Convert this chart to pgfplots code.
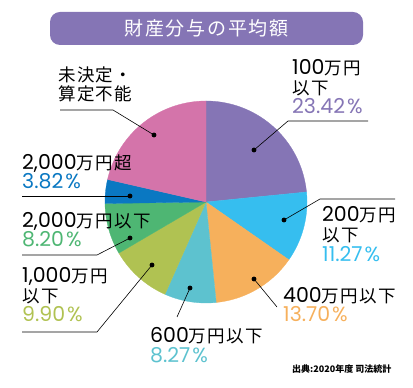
\documentclass[border=0pt]{standalone}
\usepackage{fontspec}
\setmainfont{Noto Sans CJK JP}
\newfontfamily\jp{Noto Sans CJK JP}[LetterSpace=8]
\newfontfamily\jpt{Noto Sans CJK JP}[LetterSpace=9]
\newfontfamily\lat{Poppins}
\usepackage{pgfplots}
\pgfplotsset{compat=1.18}
\definecolor{cpurple}{HTML}{8575B5}
\definecolor{clblue}{HTML}{36BEEF}
\definecolor{corange}{HTML}{F6B05C}
\definecolor{cteal}{HTML}{5DC2CF}
\definecolor{cyg}{HTML}{B0C252}
\definecolor{cgreen}{HTML}{4EB673}
\definecolor{cblue}{HTML}{0A78C2}
\definecolor{cpink}{HTML}{D474AA}
\newcommand\Jt[1]{{\fontsize{17.5bp}{19.5bp}\jp #1}}
\newcommand\Lt[1]{{\fontsize{20.5bp}{19.5bp}\lat #1}}
\newcommand\Pt[2]{{\fontsize{20.5bp}{19.5bp}\lat\color{#1}#2\kern2bp\%}}
\def\cum{0}
\newcommand\slice[2]{%
  \pgfmathsetmacro\sa{90-3.6*\cum}%
  \pgfmathsetmacro\cumnew{\cum+#1}%
  \global\let\cum\cumnew
  \pgfmathsetmacro\sb{90-3.6*\cum}%
  \edef\temp{\noexpand\addplot[fill=#2,draw=#2,line width=0.3bp,domain=\sb:\sa,samples=90] ({206+101*cos(x)},{186+101*sin(x)}) -- (axis cs:206,186) -- cycle;}%
  \temp}
\begin{document}
\begin{tikzpicture}
\begin{axis}[hide axis, scale only axis, width=413bp, height=388bp,
  xmin=0, xmax=413, ymin=0, ymax=388, clip=false]
\path (axis cs:0,0) rectangle (axis cs:413,388);
% title
\fill[cpurple, rounded corners=10bp] (axis cs:50,343) rectangle (axis cs:363,376);
\node[text=white, anchor=center] at (axis cs:206.5,359.5) {\fontsize{19bp}{22bp}\jpt 財産分与の平均額};
% pie slices (percent, colour), clockwise from 12 o'clock
\slice{23.42}{cpurple}
\slice{11.27}{clblue}
\slice{13.70}{corange}
\slice{8.27}{cteal}
\slice{9.90}{cyg}
\slice{8.20}{cgreen}
\slice{3.82}{cblue}
\slice{21.42}{cpink}
% leader lines
\addplot[black, line width=0.6bp] coordinates {(254,238) (288,267) (368,267)};
\addplot[black, line width=0.6bp] coordinates {(284,168) (320,189) (395,189)};
\addplot[black, line width=0.6bp] coordinates {(254,109) (277,81)};
\addplot[black, line width=0.6bp] coordinates {(190,100) (177,71)};
\addplot[black, line width=0.6bp] coordinates {(152,123) (97,56) (22,56)};
\addplot[black, line width=0.6bp] coordinates {(130,150) (97,133) (22,133)};
\addplot[black, line width=0.6bp] coordinates {(130,192) (22,192)};
\addplot[black, line width=0.6bp] coordinates {(154,253) (113,278) (60,278)};
\addplot[only marks, mark=*, mark size=2.2pt, black] coordinates {
 (254,238) (284,168) (254,109) (190,100) (152,123) (130,150) (130,192) (154,253)};
% labels
\tikzset{lb/.style={anchor=base west, inner sep=0pt}}
\node[lb] at (axis cs:292,313) {\Lt{100}\Jt{万円}};
\node[lb] at (axis cs:292,293.5) {\Jt{以下}};
\node[lb] at (axis cs:292,274) {\Pt{cpurple}{23.42}};
\node[lb] at (axis cs:322,166) {\Lt{200}\Jt{万円}};
\node[lb] at (axis cs:322,146) {\Jt{以下}};
\node[lb] at (axis cs:322,126) {\Pt{clblue}{11.27}};
\node[lb] at (axis cs:283,85) {\Lt{400}\Jt{万円以下}};
\node[lb] at (axis cs:283,66) {\Pt{corange}{13.70}};
\node[lb] at (axis cs:150,45) {\Lt{600}\Jt{万円以下}};
\node[lb] at (axis cs:150,26) {\Pt{cteal}{8.27}};
\node[lb] at (axis cs:22,105) {\Lt{1,000}\Jt{万円}};
\node[lb] at (axis cs:22,85.5) {\Jt{以下}};
\node[lb] at (axis cs:22,66) {\Pt{cyg}{9.90}};
\node[lb] at (axis cs:22,160) {\Lt{2,000}\Jt{万円以下}};
\node[lb] at (axis cs:22,141) {\Pt{cgreen}{8.20}};
\node[lb] at (axis cs:22,218) {\Lt{2,000}\Jt{万円超}};
\node[lb] at (axis cs:22,199) {\Pt{cblue}{3.82}};
\node[lb] at (axis cs:58,306.5) {\Jt{未決定・}};
\node[lb] at (axis cs:58,287) {\Jt{算定不能}};
\node[lb] at (axis cs:292,16) {\fontsize{9bp}{10bp}\selectfont\bfseries 出典:2020年度 司法統計};
\end{axis}
\end{tikzpicture}
\end{document}
